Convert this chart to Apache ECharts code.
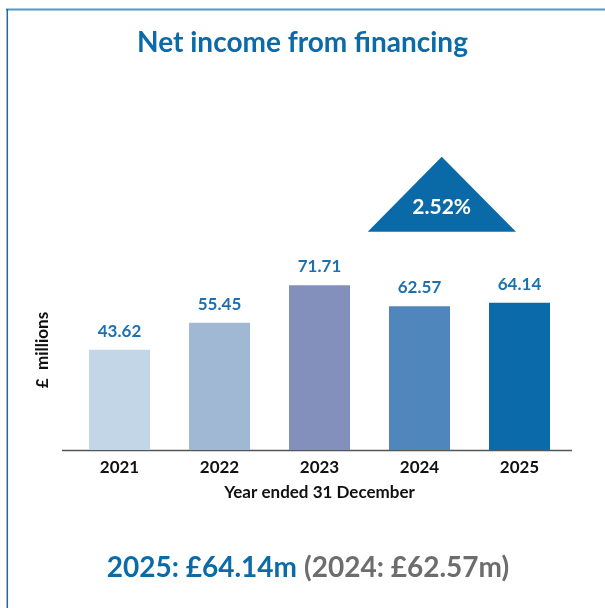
<!DOCTYPE html>
<html><head><meta charset="utf-8">
<script src="https://cdn.jsdelivr.net/npm/echarts@6/dist/echarts.min.js"></script>
<style>html,body{margin:0;padding:0;background:#fff}#c{width:605px;height:608px}</style>
</head><body><div id="c"></div>
<script>
const categories = ['2021', '2022', '2023', '2024', '2025'];
const values = [43.62, 55.45, 71.71, 62.57, 64.14];
const barColors = ['#c3d6e7', '#a0b8d4', '#8290bb', '#4f86bb', '#0a6aaa'];
const growthLabel = '2.52%';
const summaryMain = '2025: £64.14m';
const summaryPrev = '(2024: £62.57m)';

const chart = echarts.init(document.getElementById('c'));
const F = 'Lato, "Open Sans", sans-serif';
chart.setOption({
  animation: false,
  title: {
    text: 'Net income from financing', left: 'center', top: 24,
    textStyle: { fontFamily: F, fontWeight: 'bold', fontSize: 28, color: '#0b6aa8' }
  },
  grid: { left: 69.5, right: 35.5, top: 266.3, bottom: 158 },
  xAxis: {
    type: 'category', data: categories,
    axisLine: { show: false },
    axisTick: { show: false },
    axisLabel: { fontFamily: F, fontWeight: 'bold', fontSize: 17, color: '#111', margin: 9 },
    name: 'Year ended 31 December', nameLocation: 'middle', nameGap: 34,
    nameTextStyle: { fontFamily: F, fontWeight: 'bold', fontSize: 17, color: '#111' }
  },
  yAxis: { type: 'value', min: 0, max: 80, show: false },
  series: [{
    type: 'bar', barWidth: 61,
    data: values.map((v, i) => ({ value: v, itemStyle: { color: barColors[i] } })),
    label: {
      show: true, position: 'top', distance: 10,
      formatter: p => p.value.toFixed(2),
      fontFamily: F, fontWeight: 'bold', fontSize: 17, color: '#1c70b0'
    }
  }],
  graphic: [
    { type: 'line', shape: { x1: 6, y1: 9.5, x2: 605, y2: 9.5 }, style: { stroke: '#4a9cc8', lineWidth: 2 } },
    { type: 'line', shape: { x1: 7.3, y1: 9, x2: 7.3, y2: 608 }, style: { stroke: '#2266aa', lineWidth: 1.5 } },
    { type: 'line', shape: { x1: 62, y1: 450.5, x2: 572, y2: 450.5 }, style: { stroke: '#555', lineWidth: 1.5 } },
    { type: 'polygon', shape: { points: [[441.7, 156.7], [367.7, 231.7], [516, 231.7]] }, style: { fill: '#0a6aa8' } },
    { type: 'text', x: 441.7, y: 207, style: { text: growthLabel, fill: '#fff', font: 'bold 21px ' + F, textAlign: 'center', textVerticalAlign: 'middle' } },
    { type: 'text', x: 43, y: 350, rotation: Math.PI / 2, style: { text: '£  millions', fill: '#111', font: 'bold 17px ' + F, textAlign: 'center', textVerticalAlign: 'middle' } },
    { type: 'text', x: 308, y: 568, style: {
        text: '{a|' + summaryMain + '}{s| }{b|' + summaryPrev + '}',
        textAlign: 'center', textVerticalAlign: 'middle',
        rich: {
          a: { fontFamily: F, fontWeight: 'bold', fontSize: 28, fill: '#0b6aa8' },
          s: { fontFamily: F, fontSize: 28, width: 7 },
          b: { fontFamily: F, fontWeight: 'bold', fontSize: 28, fill: '#6d6d6d' }
        } } }
  ]
});
</script></body></html>
